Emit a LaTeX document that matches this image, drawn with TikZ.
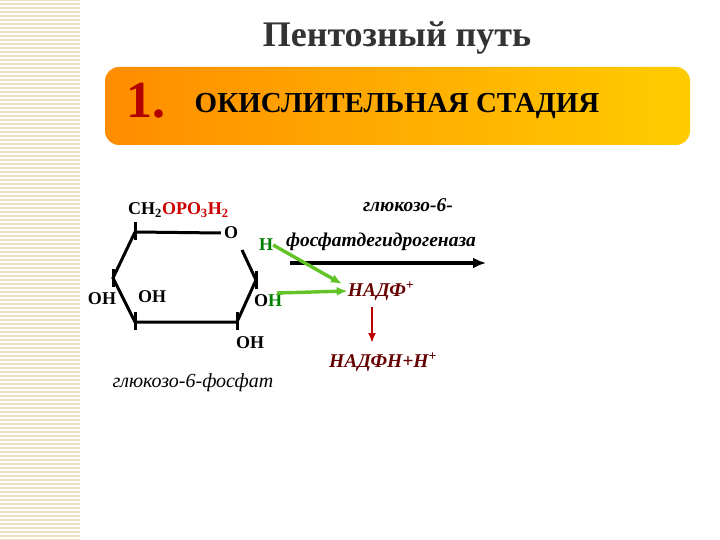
\documentclass[tikz,border=0pt]{standalone}
\usepackage{fontspec}
\setmainfont{Liberation Serif}
\usetikzlibrary{arrows.meta}
\definecolor{beige}{HTML}{EFE0BE}
\begin{document}
\begin{tikzpicture}[x=1pt,y=-1pt,
  bond/.style={line width=3pt},
  lbl/.style={font=\bfseries\fontsize{18}{18}\selectfont,inner sep=0pt},
  itl/.style={font=\bfseries\itshape\fontsize{19.5}{20}\selectfont,inner sep=0pt},
  garr/.style={-{Latex[length=11pt,width=9pt]},line width=3.4pt,draw=green!45!olive!85}]
\useasboundingbox (0,0) rectangle (720,540);
\fill[white] (0,0) rectangle (720,540);
\fill[beige] (0,0) rectangle (80,540);
\foreach \y in {2,6,...,538} \draw[white,line width=1.2pt] (0,\y)--(80,\y);
\node[font=\bfseries\fontsize{36}{36}\selectfont,text=black!80] (title) at (397,38) {Пентозный путь};
\shade[rounded corners=14pt,left color=orange!90!yellow,right color=orange!40!yellow] (105,67) rectangle (690,145);
\node[font=\bfseries\fontsize{52}{52}\selectfont,text=red!70!black] (one) at (146,101) {1.};
\node[font=\bfseries\fontsize{29}{29}\selectfont] (stage) at (397,106) {ОКИСЛИТЕЛЬНАЯ СТАДИЯ};
% ring
\coordinate (c5) at (135,232); \coordinate (c4) at (113,278); \coordinate (c3) at (135,322);
\coordinate (c2) at (237,322); \coordinate (c1) at (256,280);
\node[lbl] (o) at (231,233) {O};
\draw[bond] (c5)--([xshift=-3pt]o.west) (c5)--(c4)--(c3)--(c2)--(c1)--(242,250);
\foreach \c in {c5,c3,c2} \draw[bond] ([yshift=-8pt]\c)--([yshift=10pt]\c);
\foreach \c in {c4,c1} \draw[bond] ([yshift=-9pt]\c)--([yshift=9pt]\c);
\node[lbl,anchor=west] (ch) at (128,210) {CH\textsubscript{2}\textcolor{red!80!black}{OPO\textsubscript{3}H\textsubscript{2}}};
\node[lbl] (oh1) at (102,299) {OH};
\node[lbl] (oh2) at (152,297) {OH};
\node[lbl] (oh3) at (268,301) {O\textcolor{green!50!black}{H}};
\node[lbl] (oh4) at (250,343) {OH};
\node[lbl,text=green!50!black] (h) at (266,245) {H};
\node[itl] (e1) at (408,205) {глюкозо-6-};
\node[itl] (e2) at (381,242) {фосфатдегидрогеназа};
\coordinate (a1) at (290,263); \coordinate (a2) at (486,263);
\draw[-{Latex[length=13pt,width=11pt]},line width=3.4pt] (a1)--(a2);
\node[itl,text=red!40!black] (nadp) at (381,291) {НАДФ\textsuperscript{+}};
\draw[garr] (h.east)--(342,284);
\draw[garr] (277,293)--(nadp.west);
\node[itl,text=red!40!black] (nadph) at (383,362) {НАДФН+Н\textsuperscript{+}};
\draw[-{Latex[length=10pt,width=8pt]},line width=2.6pt,red!75!black] (372,307)--(372,343);
\node[font=\itshape\fontsize{20}{20}\selectfont] (g6p) at (193,383) {глюкозо-6-фосфат};
\end{tikzpicture}
\end{document}
